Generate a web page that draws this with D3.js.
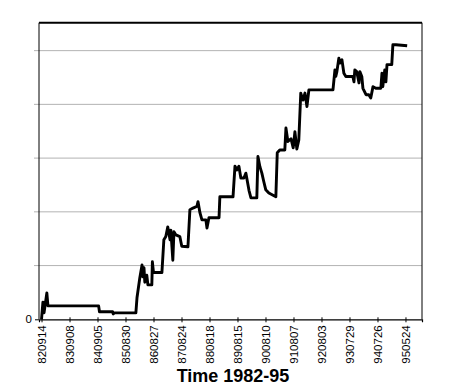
<!DOCTYPE html>
<html>
<head>
<meta charset="utf-8">
<script src="https://cdn.jsdelivr.net/npm/d3@7"></script>
<style>
  body { margin: 0; background: #fff; }
  svg { display: block; font-family: "Liberation Sans", Arial, sans-serif; }
</style>
</head>
<body>
<div id="chart"></div>
<script>
// tick labels (yymmdd), one per year on the time axis
var tickLabels = ['820914', '830908', '840905', '850830', '860827', '870824', '880818',
    '890815', '900810', '910807', '920803', '930729', '940726', '950524'];

// time in years after 820914
var seriesTime = [0, 0.05, 0.09, 0.19, 0.23, 2.04, 2.07, 2.54, 2.56, 2.60, 3.37, 3.41, 3.51, 3.59,
    3.62, 3.66, 3.69, 3.76, 3.80, 3.94, 3.96, 4.00, 4.30, 4.37, 4.44, 4.51, 4.59, 4.62, 4.69, 4.73,
    4.80, 4.94, 5.01, 5.23, 5.30, 5.41, 5.55, 5.59, 5.66, 5.73, 5.87, 5.91, 5.98, 6.34, 6.37, 6.84,
    6.91, 6.98, 7.05, 7.12, 7.23, 7.30, 7.41, 7.48, 7.69, 7.73, 7.80, 7.87, 7.94, 8.01, 8.12, 8.37,
    8.42, 8.51, 8.69, 8.73, 8.80, 8.91, 8.99, 9.05, 9.12, 9.19, 9.26, 9.34, 9.41, 9.48, 9.55, 10.41,
    10.48, 10.51, 10.55, 10.62, 10.66, 10.73, 10.80, 10.87, 11.12, 11.16, 11.19, 11.26, 11.34, 11.37,
    11.44, 11.48, 11.59, 11.69, 11.76, 11.84, 11.94, 12.12, 12.16, 12.19, 12.26, 12.30, 12.34, 12.51,
    12.55, 12.66, 13.06];

// cumulative value in gridline units
var seriesValue = [0, 0.32, 0.12, 0.49, 0.25, 0.25, 0.14, 0.14, 0.10, 0.12, 0.12, 0.40, 0.77, 1.01,
    0.79, 0.96, 0.69, 0.82, 0.64, 0.64, 1.07, 0.87, 0.87, 1.48, 1.54, 1.72, 1.48, 1.66, 1.10, 1.63,
    1.57, 1.54, 1.36, 1.35, 2.04, 2.07, 2.10, 2.19, 1.98, 1.85, 1.85, 1.70, 1.89, 1.89, 2.28, 2.28,
    2.85, 2.78, 2.85, 2.63, 2.63, 2.72, 2.40, 2.26, 2.26, 3.03, 2.84, 2.72, 2.56, 2.41, 2.35, 2.28,
    3.10, 3.15, 3.15, 3.56, 3.31, 3.36, 3.19, 3.49, 3.17, 3.34, 4.21, 4.08, 4.21, 3.96, 4.27, 4.27,
    4.64, 4.52, 4.61, 4.86, 4.77, 4.83, 4.58, 4.52, 4.52, 4.42, 4.64, 4.61, 4.40, 4.61,
    4.52, 4.30, 4.18, 4.18, 4.12, 4.33, 4.30, 4.30, 4.58, 4.33, 4.64, 4.42, 4.74, 4.74,
    5.11, 5.11, 5.09];

var gridValues = [0, 1, 2, 3, 4, 5];

var width = 463, height = 389,
    margin = {top: 22.7, right: 41, bottom: 69.7, left: 39};

var svg = d3.select('#chart').append('svg')
    .attr('width', width)
    .attr('height', height);

var x = d3.scaleLinear()
    .domain([-0.09, 13.59])
    .range([margin.left, width - margin.right]);

var y = d3.scaleLinear()
    .domain([0, 5.52])
    .range([height - margin.bottom, margin.top]);

// gridlines
svg.append('g')
    .selectAll('line')
    .data(gridValues.slice(1))
    .enter().append('line')
    .attr('x1', margin.left - 5)
    .attr('x2', width - margin.right)
    .attr('y1', function (d) { return y(d); })
    .attr('y2', function (d) { return y(d); })
    .attr('stroke', '#a0a0a0')
    .attr('stroke-width', 0.8);

// frame: thick top, thin sides
svg.append('line')
    .attr('x1', margin.left).attr('x2', width - margin.right)
    .attr('y1', margin.top).attr('y2', margin.top)
    .attr('stroke', '#000').attr('stroke-width', 2);
svg.append('line')
    .attr('x1', margin.left).attr('x2', margin.left)
    .attr('y1', margin.top).attr('y2', height - margin.bottom)
    .attr('stroke', '#000').attr('stroke-width', 1);
svg.append('line')
    .attr('x1', width - margin.right).attr('x2', width - margin.right)
    .attr('y1', margin.top).attr('y2', height - margin.bottom)
    .attr('stroke', '#000').attr('stroke-width', 1);

// y axis: only 0 is labelled
var yAxis = d3.axisLeft(y)
    .tickValues([0])
    .tickSize(4)
    .tickFormat(d3.format('d'));
var yG = svg.append('g')
    .attr('transform', 'translate(' + margin.left + ',0)')
    .call(yAxis);
yG.select('.domain').remove();
yG.selectAll('text').attr('font-size', 11.5).attr('fill', '#000');

// x axis
var xAxis = d3.axisBottom(x)
    .tickValues(d3.range(tickLabels.length))
    .tickSize(3)
    .tickFormat(function (d) { return tickLabels[d]; });
var xG = svg.append('g')
    .attr('transform', 'translate(0,' + (height - margin.bottom) + ')')
    .call(xAxis);
xG.select('.domain').attr('stroke', '#000').attr('stroke-width', 1.2);
xG.selectAll('.tick line').attr('y1', -2);
xG.selectAll('text')
    .attr('font-size', 11.5)
    .attr('fill', '#000')
    .attr('text-anchor', 'end')
    .attr('transform', 'rotate(-90)')
    .attr('x', -6)
    .attr('y', 0)
    .attr('dy', '0.35em');

// series
var points = seriesTime.map(function (t, i) { return [t, seriesValue[i]]; });
var line = d3.line()
    .x(function (d) { return x(d[0]); })
    .y(function (d) { return y(d[1]); });

svg.append('path')
    .datum(points)
    .attr('d', line)
    .attr('fill', 'none')
    .attr('stroke', '#000')
    .attr('stroke-width', 2.9)
    .attr('stroke-linejoin', 'round');

// axis title
svg.append('text')
    .attr('x', 233)
    .attr('y', 382)
    .attr('text-anchor', 'middle')
    .attr('font-size', 18)
    .attr('font-weight', 'bold')
    .text('Time 1982-95');
</script>
</body>
</html>
